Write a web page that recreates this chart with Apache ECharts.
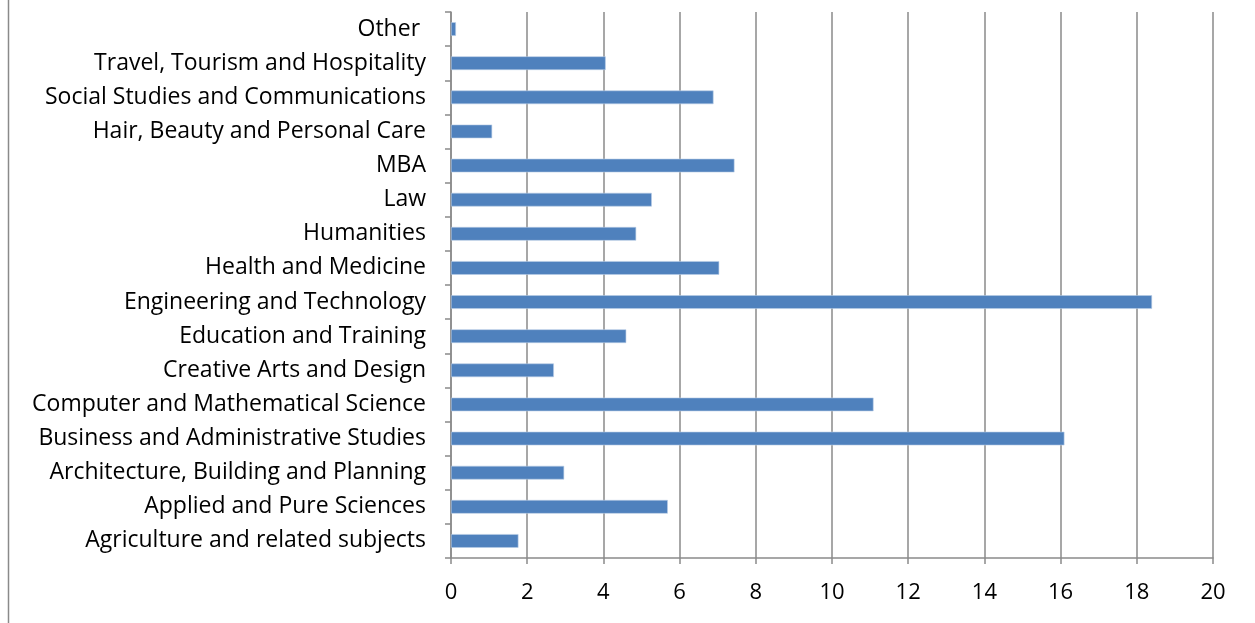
<!DOCTYPE html>
<html>
<head>
<meta charset="utf-8">
<script src="https://cdn.jsdelivr.net/npm/echarts@6/dist/echarts.min.js"></script>
<style>
  html, body { margin: 0; padding: 0; background: #fff; }
  #chart { width: 1255px; height: 623px; }
</style>
</head>
<body>
<div id="chart"></div>
<script>
// Subject areas, listed bottom to top along the category axis
const subjects = [
  'Agriculture and related subjects',
  'Applied and Pure Sciences',
  'Architecture, Building and Planning',
  'Business and Administrative Studies',
  'Computer and Mathematical Science',
  'Creative Arts and Design',
  'Education and Training',
  'Engineering and Technology',
  'Health and Medicine',
  'Humanities',
  'Law',
  'MBA',
  'Hair, Beauty and Personal Care',
  'Social Studies and Communications',
  'Travel, Tourism and Hospitality',
  'Other '
];

// Share per subject
const shares = [1.77, 5.69, 2.97, 16.10, 11.09, 2.70, 4.60, 18.40, 7.04, 4.86, 5.27, 7.44, 1.08, 6.89, 4.06, 0.13];

// Value axis ticks
const xTicks = [0, 2, 4, 6, 8, 10, 12, 14, 16, 18, 20];

const FONT = '"Open Sans", Lato, sans-serif';
const GRID_GRAY = '#8a8a8a';

const chart = echarts.init(document.getElementById('chart'), null, { renderer: 'canvas' });

chart.setOption({
  animation: false,
  backgroundColor: '#ffffff',
  grid: { left: 451, right: 42, top: 12, bottom: 65, containLabel: false },
  graphic: [{
    type: 'line',
    shape: { x1: 8.5, y1: 0, x2: 8.5, y2: 623 },
    style: { stroke: '#8a8a8a', lineWidth: 1.5 }
  }],
  xAxis: {
    type: 'value',
    min: xTicks[0],
    max: xTicks[xTicks.length - 1],
    interval: 2,
    axisLine: { show: true, lineStyle: { color: GRID_GRAY, width: 1.5 } },
    axisTick: { show: true, length: 6, lineStyle: { color: GRID_GRAY, width: 1.5 } },
    splitLine: { show: true, lineStyle: { color: GRID_GRAY, width: 1.5 } },
    axisLabel: { color: '#000', fontSize: 22, fontFamily: FONT, margin: 24 }
  },
  yAxis: {
    type: 'category',
    data: subjects,
    axisLine: { show: true, lineStyle: { color: GRID_GRAY, width: 1.5 } },
    axisTick: { show: true, length: 6, lineStyle: { color: GRID_GRAY, width: 1.5 } },
    splitLine: { show: false },
    axisLabel: { color: '#000', fontSize: 23, fontFamily: FONT, margin: 25, padding: [4, 0, 0, 0] }
  },
  series: [{
    type: 'bar',
    data: shares,
    barWidth: '40%',
    itemStyle: { color: '#4F81BD', borderColor: '#B9CDE5', borderWidth: 0.6 }
  }]
});
</script>
</body>
</html>
